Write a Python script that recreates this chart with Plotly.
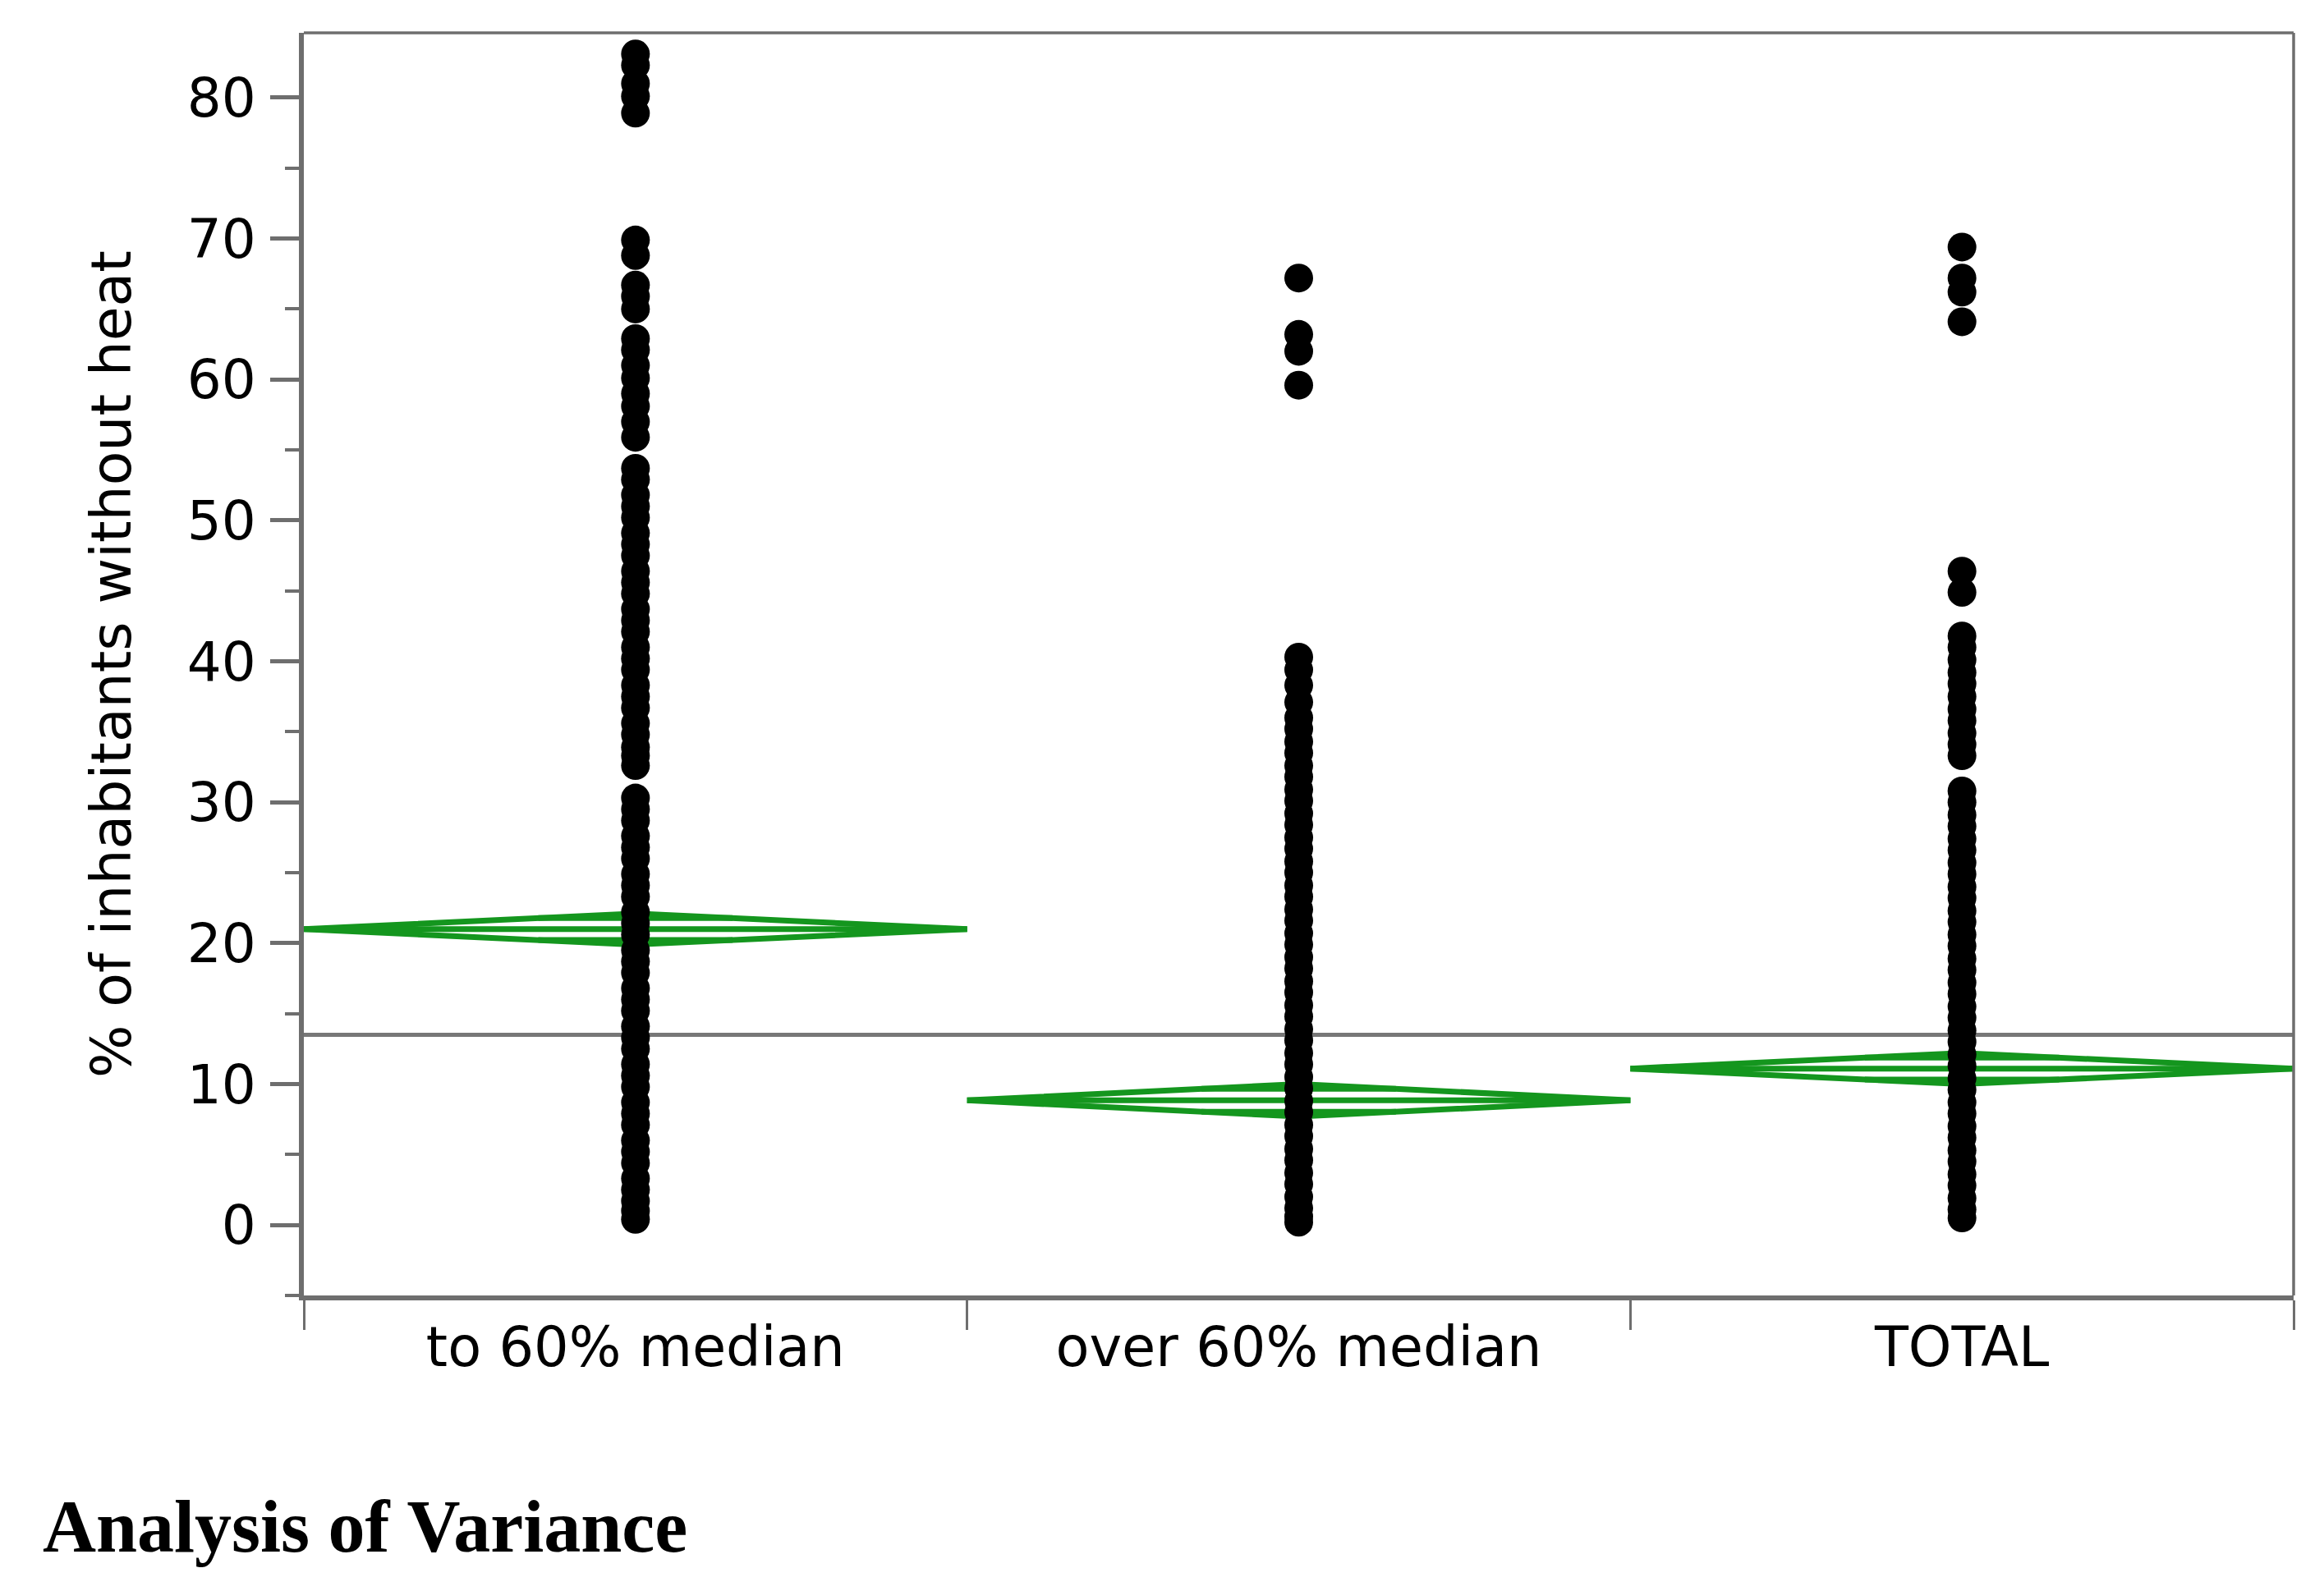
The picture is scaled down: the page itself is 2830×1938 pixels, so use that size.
import plotly.graph_objects as go
import math

# ---------------- data ----------------
categories = ["to 60% median", "over 60% median", "TOTAL"]

to60_values = [83.1, 82.3, 81.0, 80.1, 78.9,
               69.9, 68.8,
               66.7, 65.9, 65.0,
               62.9, 62.1, 61.0, 60.1, 59.0, 58.1, 57.0, 55.9,
               53.7, 52.9, 51.8, 51.0, 50.2, 49.1, 48.3, 47.5, 46.4, 45.6, 44.8, 43.7,
               42.9, 42.1, 41.0, 40.2, 39.4, 38.3, 37.5, 36.7, 35.6, 34.8, 33.9, 33.3, 32.6,
               30.3, 29.5, 28.7, 27.6, 26.8, 26.0, 24.9, 24.1, 23.3, 22.2, 21.4, 20.6,
               19.5, 18.7, 17.9, 16.8, 16.0, 15.2, 14.1, 13.3, 12.5, 11.4, 10.6, 9.8,
               8.7, 7.9, 7.1, 6.0, 5.2, 4.4, 3.3, 2.5, 1.7, 1.0, 0.4]

over60_values = [67.2, 63.2, 62.0, 59.6,
                 40.3, 39.4, 38.3, 37.1, 36.0, 35.2, 34.3, 33.5, 32.6, 31.8, 30.9,
                 30.1, 29.2, 28.4, 27.5, 26.7, 25.8, 25.0, 24.1, 23.3, 22.4, 21.6,
                 20.7, 19.9, 19.0, 18.2, 17.3, 16.5, 15.6, 14.8, 13.9, 13.1, 12.2,
                 11.4, 10.5, 9.7, 8.8, 8.0, 7.1, 6.3, 5.4, 4.6, 3.7, 2.9, 2.0, 1.2, 0.6, 0.2]

total_values = [69.4, 67.2, 66.2, 64.1,
                46.4, 44.9,
                41.8, 41.0, 40.1, 39.2, 38.4, 37.5, 36.6, 35.8, 34.9, 34.1, 33.3,
                30.8, 30.0, 29.1, 28.3, 27.4, 26.6, 25.7, 24.9, 24.0, 23.2, 22.3,
                21.5, 20.6, 19.8, 18.9, 18.1, 17.2, 16.4, 15.5, 14.7, 13.8, 13.0,
                12.1, 11.3, 10.4, 9.6, 8.7, 7.9, 7.0, 6.2, 5.3, 4.5, 3.6, 2.8, 1.9, 1.1, 0.5]

group_means = [21.0, 8.85, 11.1]
group_ci = [1.1, 1.15, 1.1]
grand_mean = 13.5

y_tickvals = [0, 10, 20, 30, 40, 50, 60, 70, 80]
y_range = [-5, 84.6]

# ---------------- figure ----------------
GREEN = "#14961e"
AXIS = "#6e6e6e"
FONT = "DejaVu Sans"
FS = 66

fig = go.Figure()

# grand mean line
fig.add_trace(go.Scatter(x=[0, 3], y=[grand_mean, grand_mean], mode="lines",
                         line=dict(color="#777777", width=5), hoverinfo="skip",
                         showlegend=False))

# mean diamonds
for i, (m, ci) in enumerate(zip(group_means, group_ci)):
    left, mid, right = i, i + 0.5, i + 1
    fig.add_trace(go.Scatter(
        x=[left, mid, right, mid, left, None, left, right],
        y=[m, m + ci, m, m - ci, m, None, m, m],
        mode="lines", line=dict(color=GREEN, width=7), showlegend=False,
        hoverinfo="skip"))
    h = ci * math.sqrt(2) / 2
    half = 0.5 * (1 - math.sqrt(2) / 2)
    fig.add_trace(go.Scatter(
        x=[mid - half, mid + half, None, mid - half, mid + half],
        y=[m + h, m + h, None, m - h, m - h],
        mode="lines", line=dict(color=GREEN, width=7), showlegend=False,
        hoverinfo="skip"))

# points
for i, vals in enumerate([to60_values, over60_values, total_values]):
    fig.add_trace(go.Scatter(
        x=[i + 0.5] * len(vals), y=vals, mode="markers",
        marker=dict(color="black", size=35, line=dict(width=0)),
        name=categories[i], showlegend=False))

fig.update_layout(
    width=2830, height=1938,
    margin=dict(l=362, r=45, t=32, b=368),
    paper_bgcolor="white", plot_bgcolor="white",
    font=dict(family=FONT, color="black", size=FS),
    showlegend=False,
)

fig.update_xaxes(
    range=[0, 3],
    tickmode="array", tickvals=[0.5, 1.5, 2.5], ticktext=categories,
    ticks="", ticklen=0, ticklabelstandoff=0,
    tickfont=dict(family=FONT, size=FS + 1, color="black"),
    showgrid=False, zeroline=False,
    showline=True, linecolor=AXIS, linewidth=6,
    minor=dict(tick0=0, dtick=1, ticks="outside", ticklen=36, tickwidth=3,
               tickcolor=AXIS, showgrid=False),
)

fig.update_yaxes(
    range=y_range,
    tickmode="array", tickvals=y_tickvals,
    ticks="outside", ticklen=35, tickwidth=5, tickcolor=AXIS,
    ticklabelstandoff=4,
    tickfont=dict(family=FONT, size=FS, color="black"),
    showgrid=False, zeroline=False,
    showline=True, linecolor=AXIS, linewidth=6,
    minor=dict(tick0=-5, dtick=10, ticks="outside", ticklen=17, tickwidth=4,
               tickcolor=AXIS, showgrid=False),
    title=dict(text="% of inhabitants without heat",
               font=dict(family=FONT, size=68, color="black"), standoff=48),
)

# top and right frame lines
fig.add_shape(type="line", xref="x domain", yref="y domain", x0=0, x1=1, y0=1, y1=1,
              line=dict(color=AXIS, width=3.5))
fig.add_shape(type="line", xref="x domain", yref="y domain", x0=1, x1=1, y0=0, y1=1,
              line=dict(color=AXIS, width=3.5))

fig.add_annotation(text="<b>Analysis of Variance</b>", xref="paper", yref="paper",
                   x=-0.132, y=-0.183, xanchor="left", yanchor="middle",
                   showarrow=False,
                   font=dict(family="Liberation Serif", size=90, color="black"))

fig.write_html("out.html")
